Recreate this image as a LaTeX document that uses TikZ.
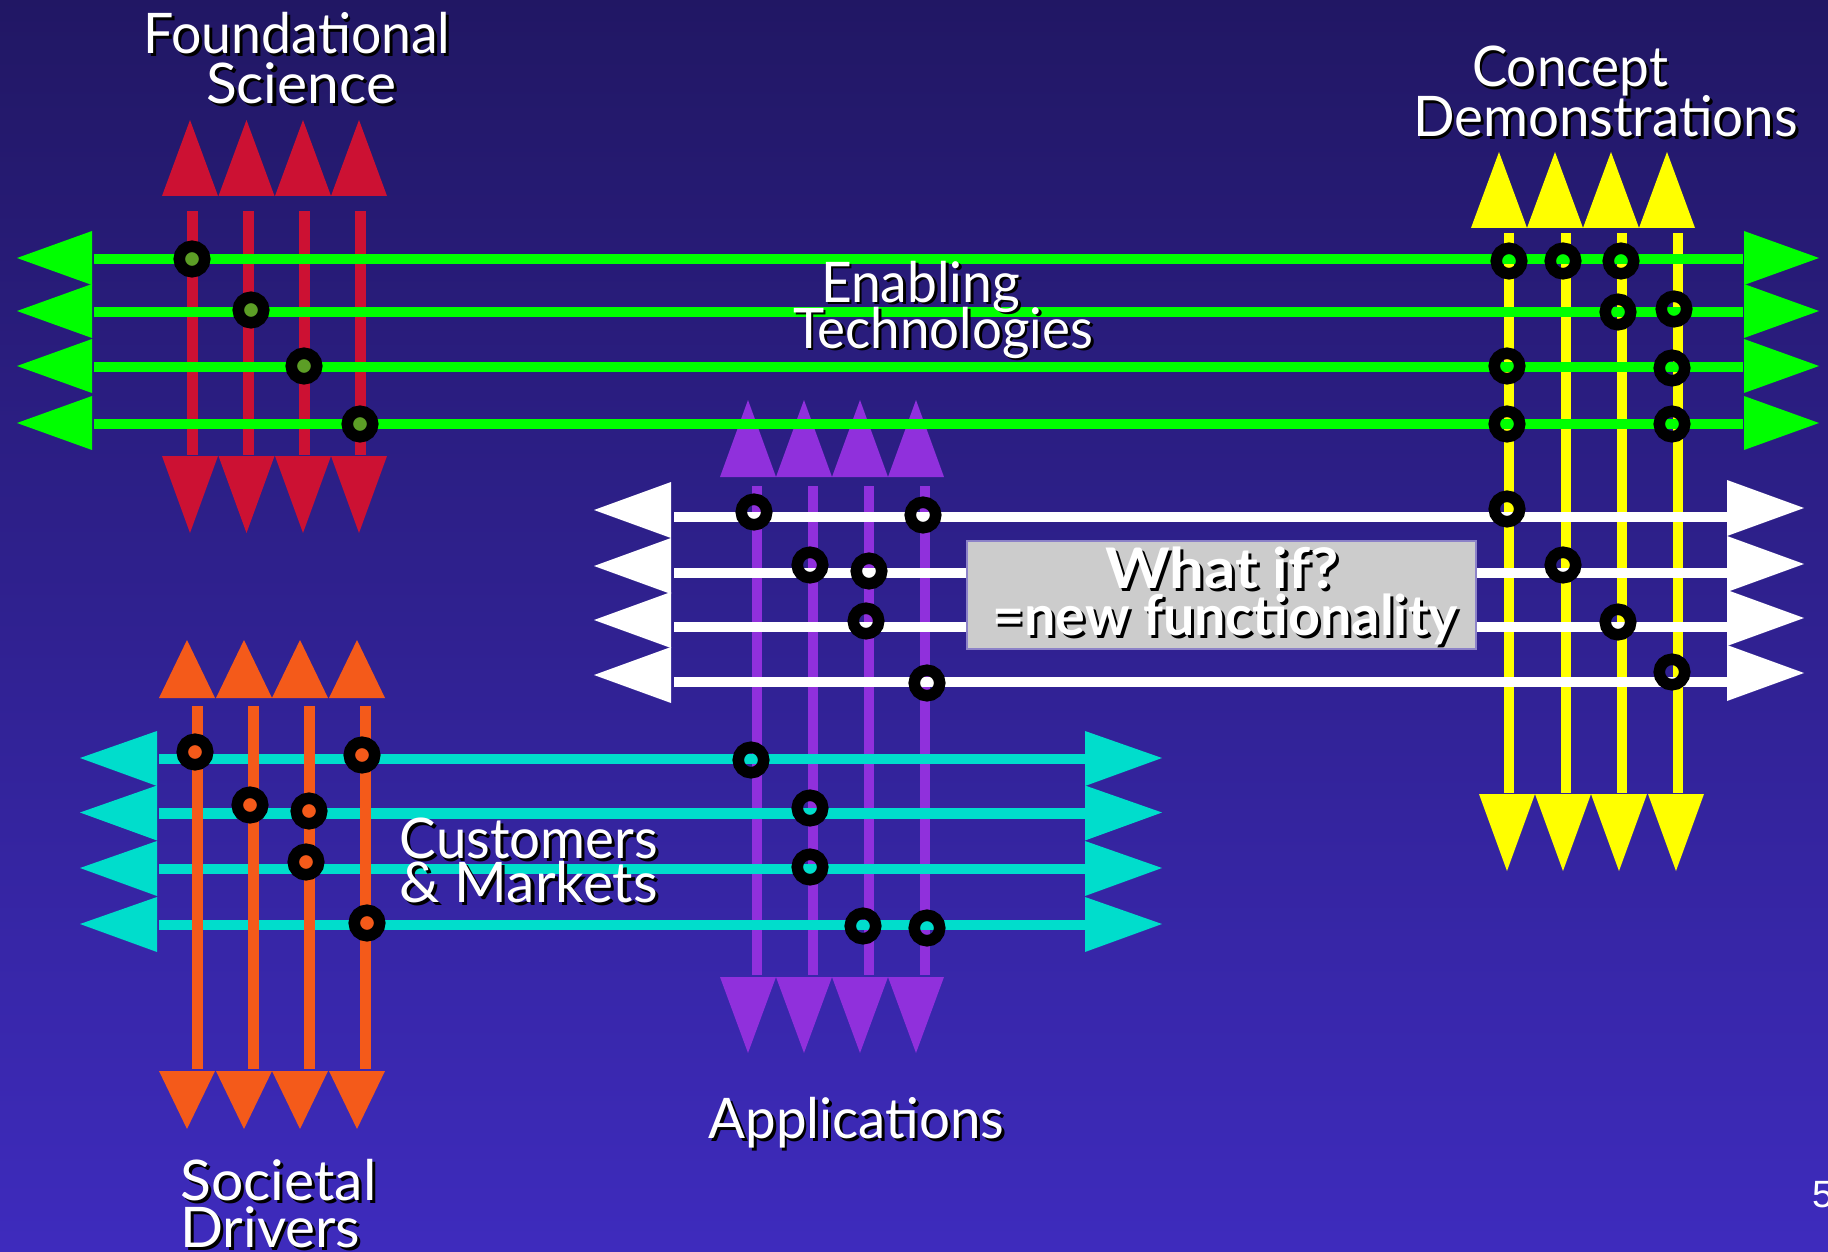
\documentclass[tikz,border=0pt]{standalone}
\usepackage{fontspec}
\usepackage{graphicx}
\setmainfont{Lato}
\newfontfamily\arialf{Liberation Sans}
\definecolor{bgtop}{HTML}{211764}
\definecolor{bgbot}{HTML}{3E2BBD}
\definecolor{cred}{HTML}{CC1133}
\definecolor{cgreen}{HTML}{00FF00}
\definecolor{colive}{HTML}{5C9E26}
\definecolor{cyel}{HTML}{FFFF00}
\definecolor{cpur}{HTML}{9030DC}
\definecolor{corg}{HTML}{F45A1A}
\definecolor{ccyan}{HTML}{00DDCC}
\definecolor{cgray}{HTML}{CCCCCC}
\definecolor{cbord}{HTML}{8C82C8}
\newsavebox\fitbox
\newcommand\fitw[2]{\sbox\fitbox{#2}\pgfmathsetmacro\fsx{#1*0.5/\the\wd\fitbox}\scalebox{\fsx}[1]{\usebox\fitbox}}
\newcommand\shtext[1]{\rlap{\kern1.5pt\raisebox{-1.5pt}{\textcolor{black}{#1}}}#1}
\newcommand\shl[6]{%
  \node[lbl, anchor=#2, text=white] (#1) at (#3,#4) {\fitw{#5}{\shtext{#6}}};}
\begin{document}
\begin{tikzpicture}[x=0.5pt,y=-0.5pt,
  lbl/.style={inner sep=0pt, font=\fontsize{28}{30}\selectfont},
  vline/.style={line width=5.25pt},
  hline/.style={line width=5.25pt},
  ring/.style={draw=black, line width=5.75pt},
]
\useasboundingbox (0,0) rectangle (1828,1252);
\fill[top color=bgtop, bottom color=bgbot] (0,0) rectangle (1828,1252);

% ---- red verticals (Foundational Science)
\foreach \x in {192,248,304,360} \draw[cred, line width=5.5pt] (\x,211) -- (\x,455);
\foreach \c in {190,246.5,303,359} {
  \fill[cred] ({\c-28},196) -- (\c,120) -- ({\c+28},196) -- cycle;
  \fill[cred] ({\c-28},456) -- (\c,533) -- ({\c+28},456) -- cycle;}

% ---- purple verticals (Applications)
\foreach \x in {757,813,869,925} \draw[cpur, vline] (\x,486) -- (\x,975);
\foreach \c in {748,804,860,916} {
  \fill[cpur] ({\c-28},477) -- (\c,400) -- ({\c+28},477) -- cycle;
  \fill[cpur] ({\c-28},977) -- (\c,1053) -- ({\c+28},977) -- cycle;}

% ---- yellow verticals (Concept Demonstrations)
\foreach \x in {1509,1566,1622,1678} \draw[cyel, vline] (\x,233) -- (\x,793);
\foreach \c in {1499,1555,1611,1667}
  \fill[cyel] ({\c-28},228) -- (\c,152) -- ({\c+28},228) -- cycle;
\foreach \c in {1507,1563,1619,1676}
  \fill[cyel] ({\c-28},794) -- (\c,871) -- ({\c+28},794) -- cycle;

% ---- green horizontals (Enabling Technologies)
\foreach \y in {259,312,367,424} {
  \draw[cgreen, hline] (94,\y) -- (1743,\y);
  \fill[cgreen] (92,{\y-28}) -- (17,{\y-1}) -- (92,{\y+26}) -- cycle;
  \fill[cgreen] (1744,{\y-28}) -- (1819,{\y-1}) -- (1744,{\y+26}) -- cycle;}

% ---- white horizontals (What if?)
\foreach \y in {517,573,627,682} {
  \draw[white, hline] (674,\y) -- (1727,\y);
  \fill[white] (671,{\y-35}) -- (594,{\y-7}) -- (671,{\y+21}) -- cycle;
  \fill[white] (1727,{\y-37}) -- (1804,{\y-9}) -- (1727,{\y+19}) -- cycle;}
\filldraw[fill=cgray, draw=cbord, line width=0.6pt] (967,541) rectangle (1476,649);

% ---- cyan horizontals (Customers & Markets)
\foreach \y in {759,813.5,869,925} {
  \draw[ccyan, hline] (159,\y) -- (1085,\y);
  \fill[ccyan] (157,{\y-28}) -- (80,{\y-1}) -- (157,{\y+27}) -- cycle;
  \fill[ccyan] (1085,{\y-28}) -- (1162,{\y-1}) -- (1085,{\y+27}) -- cycle;}

% ---- orange verticals (Societal Drivers)
\foreach \x in {197,253,309,365} \draw[corg, line width=5.5pt] (\x,706) -- (\x,1069);
\foreach \c in {187,244,300,357} {
  \fill[corg] ({\c-28},698) -- (\c,640) -- ({\c+28},698) -- cycle;
  \fill[corg] ({\c-28},1071) -- (\c,1129) -- ({\c+28},1071) -- cycle;}

% ---- rings
\foreach \p in {(192,259),(251,310),(304,366),(360,424)}
  \filldraw[ring, fill=colive] \p circle[radius=12.75];
\foreach \p in {(195,752),(362,755),(250,805),(309,811),(306,862),(367,923)}
  \filldraw[ring, fill=corg] \p circle[radius=12.75];
\foreach \p in {(1509,261),(1563,261),(1621,261),(1618,312),(1674,309),(1507,366),(1672,368),(1507,424),(1672,424),
               (754,512),(923,515),(810,565),(869,571),(866,621),(927,683),
               (1507,509),(1563,565),(1618,622),(1672,672),
               (751,760),(810,808),(810,867),(863,926),(927,928)}
  \draw[ring] \p circle[radius=12.75];

% ---- labels
\shl{fs1}{base}{297}{54}{307}{Foundational}
\shl{fs2}{base}{301}{104}{190}{Science}
\shl{cd1}{base}{1570}{87}{196}{Concept}
\shl{cd2}{base}{1605.5}{137}{385}{Demonstrations}
\shl{et1}{base}{920.5}{302}{199}{Enabling}
\shl{et2}{base}{943}{348}{300}{Technologies}
\shl{wi1}{base}{1222}{588}{234}{\bfseries What if?}
\shl{wi2}{base}{1225}{635}{466}{\bfseries =new functionality}
\shl{cm1}{base west}{399.5}{858}{258}{Customers}
\shl{cm2}{base west}{399.5}{902}{258}{\& Markets}
\shl{ap}{base west}{708}{1138}{296}{Applications}
\shl{sd1}{base west}{180}{1200}{196}{Societal}
\shl{sd2}{base west}{180}{1247}{180}{Drivers}
\node[inner sep=0pt, anchor=base west, text=white, font=\arialf\fontsize{19}{21}\selectfont] (pg) at (1812,1207) {5};
\end{tikzpicture}
\end{document}
